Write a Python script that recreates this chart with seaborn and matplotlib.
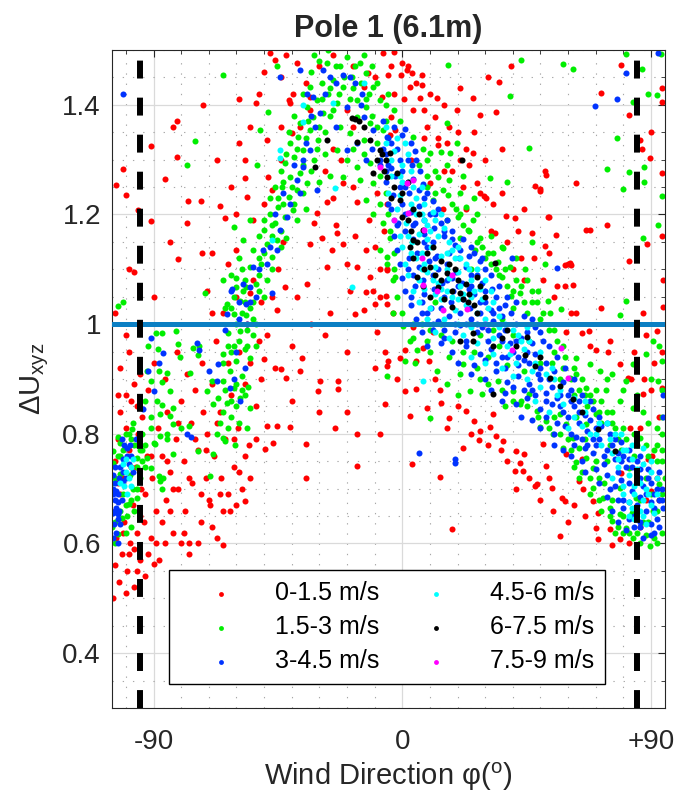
import matplotlib
matplotlib.use("Agg")
from matplotlib import pyplot
from matplotlib.ticker import FixedLocator, MultipleLocator, FormatStrFormatter
import seaborn

# wind speed bins and their colours (MATLAB style pure colours)
BIN_LABELS = ["0-1.5 m/s", "1.5-3 m/s", "3-4.5 m/s", "4.5-6 m/s", "6-7.5 m/s", "7.5-9 m/s"]
BIN_COLORS = ["#ff0000", "#00ee00", "#0033ff", "#00ffff", "#000000", "#ff00ff"]

# (wind direction [deg], dU_xyz), one list per speed bin
RED_PTS = [
    (-104.5, 0.50), (-104, 0.56), (-103.5, 0.61), (-103, 0.79), (-102.5, 0.53), (-102, 0.84), (-101.5, 0.58),
    (-101, 0.72), (-100.5, 0.64), (-100, 0.81), (-99.5, 0.55), (-99, 0.77), (-98.5, 0.60), (-98, 0.86),
    (-97.5, 0.67), (-97, 0.52), (-96.5, 0.74), (-96, 0.62), (-95.5, 0.80), (-95, 0.57), (-94.5, 0.70),
    (-94, 0.83), (-93.5, 0.64), (-93, 0.54), (-92.5, 0.76), (-104, 0.66), (-102, 0.69), (-100, 0.87),
    (-98, 0.74), (-96, 0.85),
    (-92, 0.88), (-91, 0.61), (-90.5, 0.72), (-90, 0.93), (-89, 0.66), (-88.5, 0.81), (-88, 0.57),
    (-87, 0.76), (-86, 0.90), (-85.5, 0.68), (-85, 0.84), (-84, 0.73), (-83, 0.62), (-82, 0.79),
    (-81.5, 0.95), (-81, 0.70), (-80, 0.86), (-79, 0.75), (-78.5, 0.66), (-78, 0.91), (-77, 0.58),
    (-76.5, 0.82), (-76, 0.71), (-75, 0.88), (-74, 0.77), (-73, 0.64), (-72.5, 0.93), (-72, 0.84),
    (-71, 0.72), (-70.5, 0.80),
    (-69.5, 0.67), (-69, 0.89), (-68, 0.76), (-67.5, 0.97), (-67, 0.61), (-66, 0.84), (-65.5, 0.72),
    (-65, 1.02), (-64, 0.79), (-63, 0.93), (-62.5, 0.66), (-62, 0.87), (-61, 0.74), (-60, 1.05),
    (-59.5, 0.81), (-59, 0.95), (-58, 0.70), (-57, 0.89), (-56, 1.00), (-55.5, 0.78), (-55, 0.93),
    (-54, 1.08), (-53, 0.85), (-52, 0.97), (-51, 1.04),
    (-72, 1.40), (-81.5, 1.37), (-83, 1.36), (-91, 1.325), (-81.5, 1.305), (-67, 1.30), (-101, 1.283),
    (-59, 1.33), (-59, 1.41), (-53, 1.404), (-86, 1.265), (-103.5, 1.254), (-100, 1.235), (-77.5, 1.224),
    (-73, 1.224), (-66, 1.216), (-64, 1.193), (-95.6, 1.208), (-91, 1.188), (-78, 1.184), (-84, 1.149),
    (-81, 1.118), (-99, 1.10), (-97, 1.095), (-104, 1.02), (-90, 1.05),
    (-48, 1.495), (-46, 1.482), (-39.5, 1.42), (-40.6, 1.404), (-38, 1.477), (-33.4, 1.415), (-57, 1.266),
    (-48.6, 1.268), (-47, 1.245), (-56, 1.232), (-54, 1.19), (-72.5, 1.13), (-69, 1.129), (-63, 1.11),
    (-60, 1.135), (-70.7, 1.06), (-69, 1.02), (-55, 1.056), (-32, 1.184), (-31, 1.202), (-33.4, 1.147),
    (-29, 1.158), (-23.7, 1.166), (-21.5, 1.147), (-25.5, 1.135), (-20, 1.11), (-16.5, 1.104),
    (-13, 1.135), (-11.7, 1.086), (-27.4, 1.104), (-19, 1.06), (-10.6, 1.06), (-5.6, 1.098),
    (-34.6, 1.074), (-38, 1.05), (-26, 1.02), (-14, 1.025), (-6, 1.052), (-16.5, 1.222), (-21.5, 1.257),
    (-27.4, 1.222), (-25, 1.23), (-49, 1.336), (-44, 1.36), (-40, 1.348), (-41, 1.409), (-33.4, 1.39),
    (-35, 1.44), (-20, 1.39), (-17.7, 1.36), (-14, 1.433), (-12.4, 1.458), (-7, 1.495), (-7.5, 1.415),
    (-4, 1.378), (-2.7, 1.354), (1.6, 1.464), (2.7, 1.433),
    (-3, 1.496), (0, 1.477), (2, 1.47), (3.4, 1.458), (-0.6, 1.455), (7, 1.455), (7, 1.437), (6.3, 1.413),
    (12.4, 1.413), (-5, 1.455), (0.6, 1.41), (19.7, 1.39), (25.5, 1.413), (31, 1.45), (35, 1.442),
    (39.5, 1.47), (34, 1.387), (28, 1.382), (11.7, 1.378), (12.8, 1.34), (36, 1.32), (25.5, 1.312),
    (20.8, 1.30), (51.5, 1.28), (52, 1.272), (48, 1.252), (49.7, 1.243), (63, 1.257), (72, 1.422),
    (79, 1.473), (82, 1.382), (86, 1.336), (86.6, 1.32), (89.5, 1.303), (90, 1.35), (93.8, 1.275),
    (94, 1.43), (94, 1.405), (28, 1.239), (29.6, 1.233), (37.7, 1.198), (40.6, 1.193), (53, 1.195),
    (66.6, 1.171), (68, 1.171), (74, 1.18), (60, 1.11), (60.6, 1.112), (82, 1.116), (88.7, 1.147),
    (94, 1.16), (94.5, 1.08), (46.8, 1.166), (43, 1.12), (47.6, 1.12), (51.5, 1.142), (51, 1.08),
    (44, 1.08), (55.7, 1.162), (59, 1.107), (61, 1.108), (61.8, 1.071), (30.4, 1.23), (27, 1.257),
    (23.2, 1.21), (33.4, 1.166), (32, 1.17), (52.6, 1.196), (50, 1.247),
    (-4.5, 1.345), (-5.6, 1.22), (-6.5, 1.17), (-5.6, 1.10), (-8, 1.05), (10, 1.257), (14.6, 1.21),
    (13, 1.327), (18, 1.28), (22, 1.25), (16, 1.33), (9, 1.36),
    (-3.3, 1.02), (3.8, 0.994), (7.4, 0.957), (-5, 0.933), (1, 0.952), (11, 0.985), (5, 0.933),
    (9.8, 0.933), (-5.6, 1.037), (-5.6, 0.924), (-1, 0.939), (1, 0.878), (5, 0.882), (-6.3, 0.855),
    (2.7, 0.833), (8.8, 0.848), (14, 0.857), (13.5, 0.88), (17, 0.829), (23, 0.842), (16, 0.81),
    (26, 0.824), (28, 0.805), (33, 0.836), (31.8, 0.812), (34, 0.796), (36.4, 0.787), (27.6, 0.789),
    (22, 0.774), (35.7, 0.77), (41, 0.769), (44, 0.763), (51, 0.782), (42.5, 0.747), (40.7, 0.732),
    (43.7, 0.732), (52, 0.741), (48.6, 0.708), (53, 0.72), (54, 0.701), (41.3, 0.699), (48, 0.704),
    (57.7, 0.683), (59, 0.677), (54.5, 0.659), (57, 0.613), (64, 0.714), (65.3, 0.70), (69, 0.677),
    (70.7, 0.655), (70, 0.628), (70.7, 0.608), (75.7, 0.598), (78.6, 0.608), (75, 0.626), (59.4, 0.763),
    (65, 0.755), (3.4, 0.745), (13.5, 0.722), (18, 0.627), (-35, 0.72), (-16.5, 0.80), (-16.3, 0.741),
    (-49, 0.814), (-45.5, 0.814), (-40.6, 0.812), (-46.7, 0.783), (-49.8, 0.773), (-35, 0.781),
    (-57, 0.677), (-42.5, 1.067), (-45.5, 1.025), (-44, 0.918), (-42, 0.902), (-37, 0.915),
    (-30.5, 0.878), (-29.6, 0.897), (-23.3, 0.897), (-23.3, 0.882), (-24.4, 0.811), (-17, 1.019),
    (-13, 1.058), (-10, 1.037), (-9.3, 0.985), (-6.3, 0.95), (-50, 0.937), (-36.3, 0.939), (-77, 0.601),
    (-64.7, 0.598), (-90, 0.562),
    (70, 0.952), (74.6, 0.95), (78.6, 0.928), (81.6, 0.902), (82.6, 0.9), (87, 0.873), (87.6, 0.9),
    (90, 0.88), (93.8, 0.884), (94.4, 1.032), (92, 0.988), (87, 1.021), (72, 1.03), (65, 0.983),
    (67.6, 0.987), (59.4, 0.985), (61, 1.02), (56, 1.07), (59, 1.07), (86, 0.81), (89, 0.754),
    (90.5, 0.76), (90, 0.695), (93, 0.68), (79, 0.728), (82.5, 0.81), (93, 0.83),
    (-104, 0.75), (-103, 0.71), (-101, 0.62), (-99, 0.58), (-97, 0.59), (-95, 0.65), (-93, 0.69),
    (-91, 0.76), (-89, 0.60), (-87, 0.64), (-85, 0.75), (-83, 0.70), (-81, 0.82), (-79, 0.62),
    (-77, 0.72), (-75, 0.79), (-73, 0.69), (-71, 0.77), (-69, 0.63), (-67, 0.82), (-65, 0.66),
    (-63, 0.69), (-61, 0.79), (-59, 0.73), (-57, 0.76), (-55, 0.72), (-53, 0.79), (-51, 0.90),
    (-49, 0.98), (-47, 1.05), (-45, 1.10), (-43, 1.15), (-50, 1.22), (-44, 1.30), (-37, 1.36),
    (-30, 1.47), (-25, 1.49), (-18, 1.47), (-10, 1.45), (-3, 1.42), (4, 1.39), (8, 1.34), (3, 1.30),
    (20, 1.35), (15, 1.28), (24, 1.29), (30, 1.30), (33, 1.22), (36, 1.24), (38, 1.15), (42, 1.17),
    (44, 1.21), (40, 1.10), (53, 1.13), (55, 1.05), (63, 1.02), (68, 0.96), (75, 0.97), (84, 0.95),
    (88, 0.98), (91, 0.93), (94, 0.95), (92, 0.72), (88, 0.68), (86, 0.63), (82, 0.60), (66, 0.65),
    (62, 0.67), (60, 0.64), (50, 0.68), (46, 0.72), (38, 0.75), (31, 0.78), (25, 0.80), (20, 0.85),
    (12, 0.90), (-2, 0.90), (-10, 0.92), (-20, 0.95), (-28, 0.98), (-33, 1.00), (-40, 0.96),
    (-46, 0.92), (-30, 0.84), (-40, 0.86), (-20, 0.84), (-8, 0.80),
    (-60, 1.20), (-62, 1.25), (-57, 1.30), (-55, 1.36), (-52, 1.42), (-50, 1.46), (-44, 1.45),
    (-42, 1.49), (-28, 1.28), (-25, 1.32), (-22, 1.30), (-18, 1.25), (-24, 1.18), (-17, 1.16),
    (-12, 1.19), (-9, 1.24), (-10, 1.14), (-8, 1.10), (-4, 1.47), (5, 1.44), (10, 1.42), (15, 1.40),
    (21, 1.43), (8, 1.39), (17, 1.36), (26, 1.35), (23, 1.32), (-102, 0.92), (-99, 0.95), (-100, 0.98),
    (-95, 0.91), (-97, 0.89), (-103, 0.87), (-100, 0.51), (-96, 0.55), (-92, 0.58), (-86, 0.60),
    (-84, 0.66), (-80, 0.60), (-74, 0.60), (-70, 0.68), (-66, 0.69), (-60, 0.67),
]

GREEN_PTS = [
    (-104.8, 0.747), (-104.6, 0.769), (-102, 0.783), (-100, 0.80), (-97.8, 0.809), (-97.5, 0.82),
    (-102, 0.727), (-98.6, 0.725), (-97.3, 0.70), (-96, 0.683), (-99, 0.672), (-101.4, 0.646),
    (-103, 0.617), (-92.4, 0.756), (-91, 0.738), (-88, 0.723), (-89.4, 0.781), (-91, 0.81), (-96, 0.756),
    (-94, 0.77), (-103, 0.794), (-94, 0.80), (-87.6, 0.796), (-85, 0.79), (-83, 0.818), (-80, 0.81),
    (-77, 0.815), (-74, 0.769), (-68.4, 0.763), (-65, 0.793), (-60.5, 0.78), (-69.6, 0.723),
    (-87.6, 0.714), (-101, 0.69), (-99.5, 0.65), (-97, 0.66), (-95, 0.72), (-93, 0.74), (-100, 0.62),
    (-98, 0.63), (-104, 0.60), (-96, 0.78), (-93, 0.78),
    (-105, 0.71), (-104, 0.72), (-103, 0.76), (-102, 0.76), (-101, 0.77), (-99, 0.80), (-98, 0.79),
    (-97, 0.78), (-96, 0.74), (-95, 0.77), (-94, 0.75), (-96, 0.70), (-98, 0.68), (-100, 0.67),
    (-102, 0.66), (-104, 0.64), (-105, 0.63),
    (-89, 0.983), (-87, 0.983), (-82, 0.988), (-81, 0.964), (-92, 0.96), (-88.4, 0.955), (-88, 0.915),
    (-85, 0.911), (-92.4, 0.915), (-91, 0.897), (-87, 0.895), (-84, 0.878), (-88.7, 0.86), (-93, 0.86),
    (-87.6, 0.836), (-84, 0.833), (-91, 0.83), (-83, 0.848), (-75.6, 0.957), (-73.5, 0.96), (-74, 0.943),
    (-80.3, 0.94), (-76.8, 0.911), (-87, 0.853), (-85, 0.80), (-83, 0.763), (-90, 0.783), (-86.4, 0.72),
    (-87, 0.70), (-103, 1.034), (-101, 1.04),
    (-60, 1.067), (-56.4, 1.068), (-63.4, 1.037), (-58.7, 1.043), (-54, 1.04), (-61, 1.019),
    (-56.5, 1.017), (-63, 0.983), (-58.7, 0.988), (-54, 0.98), (-61, 0.96), (-57, 0.955), (-64.7, 0.946),
    (-60, 0.933), (-55, 0.939), (-62.3, 0.915), (-58, 0.906), (-65, 0.897), (-61, 0.884), (-55.7, 0.886),
    (-66.6, 0.866), (-63.4, 0.857), (-58.7, 0.866), (-55, 0.848), (-56, 0.811), (-64, 0.787),
    (-68.5, 0.855), (-70.7, 0.878), (-69, 0.897),
    (-66, 0.82), (-63, 0.81), (-60, 0.85), (-58, 0.88), (-62, 0.95), (-59, 0.97), (-56, 0.99),
    (-58, 1.02), (-55, 1.03), (-52, 1.06), (-58, 1.10), (-52, 1.09), (-50, 1.13), (-47, 1.16),
    (-44, 1.17), (-48, 1.20), (-43, 1.22), (-40, 1.25), (-36, 1.29), (-38, 1.32), (-35, 1.34),
    (-30, 1.36), (-34, 1.37), (-29, 1.41), (-26, 1.43), (-24, 1.47), (-18, 1.43), (-15, 1.44),
    (-12, 1.42), (-11, 1.38), (-9, 1.36), (-6, 1.37), (-18, 1.32), (-14, 1.31), (-8, 1.27), (-6, 1.24),
    (-5, 1.20), (-3, 1.13),
    (-67, 0.80), (-65, 0.84), (-64, 0.88), (-62, 0.86), (-60, 0.89), (-57, 0.87), (-59, 0.82),
    (-62, 0.83), (-65, 0.93), (-63, 0.96), (-60, 1.00), (-62, 1.03), (-57, 1.04), (-54, 1.01),
    (-56, 0.96), (-53, 0.96),
    (-52, 1.16), (-50, 1.19), (-48, 1.23), (-46, 1.25), (-44, 1.28), (-42, 1.31), (-41, 1.35),
    (-39, 1.38), (-36, 1.42), (-33, 1.46), (-30, 1.48), (-27, 1.50), (-45, 1.23), (-47, 1.18),
    (-43, 1.26), (-39, 1.22), (-36, 1.24), (-33, 1.28), (-31, 1.32), (-28, 1.35), (-26, 1.38),
    (-23, 1.42), (-21, 1.45), (-17, 1.47), (-14, 1.49), (-11, 1.47), (-9, 1.44), (-5, 1.42), (-3, 1.39),
    (-1, 1.37), (-6, 1.40), (-13, 1.41), (-19, 1.41), (-25, 1.39), (-28, 1.31), (-26, 1.27), (-30, 1.26),
    (-35, 1.21), (-38, 1.19), (-44, 1.14), (-47, 1.10), (-52, 1.12), (-50, 1.05), (-53, 1.00),
    (-57, 1.08), (-59, 1.12), (-62, 1.09),
    (-61, 1.05), (-57.6, 1.06), (-53, 1.074), (-49, 1.08), (-60, 1.085), (-55, 1.104), (-51, 1.11),
    (-47, 1.122), (-54, 1.135), (-49, 1.147), (-45.4, 1.153), (-42, 1.158), (-50, 1.171), (-46, 1.184),
    (-42.5, 1.195), (-39.5, 1.208), (-45, 1.213), (-41, 1.232), (-38, 1.244), (-43.6, 1.25),
    (-40.6, 1.268), (-37, 1.275), (-34.6, 1.257), (-42.5, 1.294), (-39, 1.305), (-36, 1.318), (-32, 1.30),
    (-40.6, 1.33), (-37.8, 1.342), (-33.4, 1.354), (-30.5, 1.336), (-37, 1.367), (-32.3, 1.378),
    (-28.7, 1.385), (-34.6, 1.396), (-31, 1.409), (-27, 1.42), (-23.7, 1.404), (-33.4, 1.433),
    (-29, 1.44), (-25, 1.446), (-21.5, 1.433), (-18.3, 1.451), (-22.6, 1.47), (-27.4, 1.477),
    (-32, 1.491), (-20, 1.488), (-15.4, 1.477), (-13, 1.458), (-10.6, 1.433), (-16.5, 1.409),
    (-13, 1.396), (-8, 1.409), (-16.5, 1.378), (-11.7, 1.367), (-7, 1.354), (-14, 1.336), (-9.3, 1.33),
    (-19, 1.348), (-22.6, 1.36), (-23.7, 1.318), (-20, 1.30), (-16.5, 1.287), (-11.7, 1.294),
    (-21.5, 1.268), (-15.4, 1.263), (-10.6, 1.257), (-13, 1.226), (-8, 1.22), (-7, 1.184), (-10.6, 1.20),
    (-4.5, 1.158), (-8, 1.135), (-5.6, 1.11), (-3.3, 1.08), (-65, 1.455), (-45.4, 1.47), (-48.6, 1.387),
    (-51.5, 1.354), (-52.6, 1.29), (-55, 1.19), (-61, 1.177), (-57.6, 1.153), (-64.7, 1.08),
    (-71.4, 1.056), (-64, 1.03), (-75, 1.334), (-78, 1.29),
    (10, 1.312), (14, 1.314), (16, 1.29), (13, 1.268), (17, 1.263), (20.8, 1.239), (16.4, 1.235),
    (11, 1.226), (23.2, 1.213), (20, 1.195), (16, 1.19), (25.5, 1.19), (23.8, 1.171), (20.8, 1.158),
    (28, 1.158), (29, 1.14), (26.2, 1.135), (32.7, 1.129), (34.6, 1.113), (32, 1.11), (39, 1.104),
    (36, 1.086), (41.3, 1.08), (42.5, 1.056), (46.8, 1.06), (39.5, 1.052), (48.6, 1.04), (52.6, 1.043),
    (53.3, 1.021), (57.6, 1.028), (8.8, 1.25), (-5.6, 1.122), (-2.7, 1.086), (-4.5, 1.17), (2.7, 0.97),
    (5.2, 0.952), (22, 0.928), (1, 0.933), (44.5, 1.10), (19.4, 1.21), (14.6, 1.245), (3.8, 1.342),
    (7.5, 1.32), (19.7, 1.33), (17.3, 1.312),
    (-3.3, 1.021), (0.3, 0.997), (4, 0.975), (8.8, 0.97), (4.5, 0.93), (-5.6, 0.906), (12.5, 0.915),
    (16, 0.891), (20.8, 0.91), (24.4, 0.878), (20, 0.87), (10, 0.829), (29, 0.873), (34.7, 0.897),
    (40, 0.878), (42.5, 0.855), (46, 0.873), (48.6, 0.842), (52, 0.824), (50, 0.812), (54.5, 0.80),
    (57, 0.836), (59.4, 0.818), (61.8, 0.793), (58, 0.774), (64, 0.774), (66.6, 0.756), (63, 0.749),
    (69, 0.738), (64, 0.72), (69, 0.701), (71, 0.72), (72.6, 0.683), (75, 0.664), (76, 0.641),
    (78.6, 0.653), (81, 0.628), (83.4, 0.61), (88, 0.616), (87, 0.64), (92, 0.60), (90.7, 0.659),
    (93, 0.708), (92, 0.75), (93.8, 0.80), (92, 0.81), (94, 0.83), (92.4, 0.897), (93.8, 0.933),
    (90.6, 0.97), (93, 0.96), (88, 0.946), (83.4, 0.928), (81, 0.897), (76, 0.91), (71.4, 0.915),
    (68, 0.928), (63, 0.939), (60.5, 0.902), (66.6, 0.884), (73.6, 0.88), (78.6, 0.86), (83.4, 0.848),
    (76, 0.84), (70, 0.836), (66.6, 0.818), (87, 0.84), (86, 0.793), (82, 0.738), (78.6, 0.701),
    (84.7, 0.683), (81, 1.043), (78.6, 1.016), (89.6, 0.595), (80, 0.62),
    (26, 0.95), (31, 0.94), (35, 0.96), (38, 0.925), (44, 0.915), (50, 0.93), (55, 0.95), (57, 0.90),
    (62, 0.87), (67, 0.85), (72, 0.82), (75, 0.78), (79, 0.77), (84, 0.76), (88, 0.72), (90, 0.69),
    (86, 0.68), (83, 0.655), (24, 1.00), (28, 0.98), (33, 0.99), (40, 0.98), (45, 1.02), (12, 1.04),
    (14, 1.00),
    (30, 1.12), (35, 1.09), (38, 1.07), (44, 1.04), (50, 1.01), (55, 0.99), (58, 0.96), (62, 0.92),
    (65, 0.90), (68, 0.87), (72, 0.86), (76, 0.82), (80, 0.81), (84, 0.80), (88, 0.78), (91, 0.77),
    (94, 0.75), (89, 0.82), (85, 0.87), (80, 0.88), (74, 0.90), (90, 0.90), (94, 0.88), (94, 0.62),
    (91, 0.61), (86, 0.60), (77, 0.62), (72, 0.66), (68, 0.69), (62, 0.74), (60, 0.79), (55, 0.83),
    (45, 0.85), (37, 0.85), (28, 0.90), (17, 0.94), (10, 0.95), (7, 1.00), (25, 1.10), (22, 1.18),
    (27, 1.20), (12, 1.28), (9, 1.30), (22, 1.27), (26, 1.23), (32, 1.16), (36, 1.14), (41, 1.12),
    (45, 1.08), (49, 1.06), (40, 1.03), (36, 1.01), (46, 0.97), (54, 0.93), (58, 0.92), (64, 0.88),
    (70, 0.88), (63, 0.83), (66, 0.79), (70, 0.75), (73, 0.71), (76, 0.68), (80, 0.65), (74, 0.75),
    (78, 0.79),
    (6, 1.29), (9, 1.27), (12, 1.24), (18, 1.22), (21, 1.20), (24, 1.17), (27, 1.15), (31, 1.13),
    (34, 1.10), (37, 1.10), (40, 1.06), (43, 1.07), (47, 1.04), (51, 1.02), (53, 0.99), (56, 0.97),
    (59, 0.94), (61, 0.90), (63, 0.91), (66, 0.87), (69, 0.86), (71, 0.84), (74, 0.84), (77, 0.81),
    (81, 0.79), (85, 0.78), (89, 0.76), (92, 0.78), (94, 0.77), (95, 0.72), (94, 0.69), (92, 0.66),
    (89, 0.64), (85, 0.62), (82, 0.62), (78, 0.63), (75, 0.65), (71, 0.68), (68, 0.72), (65, 0.73),
    (61, 0.77), (57, 0.80), (53, 0.81), (49, 0.83), (43, 0.86), (40, 0.86), (36, 0.88), (31, 0.89),
    (27, 0.92), (22, 0.95), (18, 0.97), (14, 0.98), (10, 0.99), (4, 1.00), (0, 1.02), (-2, 1.05),
    (-3, 1.10),
    (16.6, 1.473), (43, 1.482), (58, 1.475), (61.8, 1.466), (81, 1.493), (86.6, 1.466), (88.8, 1.42),
    (92, 1.418), (93.6, 1.493), (83.4, 1.406), (38.8, 1.416), (16, 1.367), (77.5, 1.34), (46, 1.322),
    (74, 1.283), (82, 1.277), (87.6, 1.287), (87.6, 1.26), (79.7, 1.246), (94, 1.234), (38, 1.26),
    (31.6, 1.266), (92.4, 1.18), (87, 1.158), (46.8, 1.149), (36.4, 1.138), (51.5, 1.11),
]

BLUE_PTS = [
    (-104.5, 0.70), (-104, 0.68), (-103.5, 0.665), (-104.7, 0.655), (-103, 0.645), (-104.2, 0.635),
    (-103.6, 0.62), (-102.8, 0.69), (-102.5, 0.66), (-104.8, 0.69), (-103.8, 0.71), (-101.5, 0.79),
    (-100.5, 0.78), (-99.5, 0.775), (-101, 0.755), (-99, 0.745), (-97.5, 0.73), (-100, 0.72), (-98, 0.76),
    (-96.5, 0.79), (-103, 0.653), (-101, 0.714), (-104, 0.74), (-103, 0.60), (-104.5, 0.61),
    (-102, 0.635), (-103, 0.675), (-101.5, 0.68), (-102, 0.74), (-104, 0.66), (-103.5, 0.695),
    (-104.5, 0.725), (-102.5, 0.72), (-101, 0.73), (-99.5, 0.76), (-98.5, 0.78),
    (-78, 0.80), (-76.5, 0.795), (-91, 0.974), (-86.4, 0.948), (-88, 0.93), (-92, 0.915), (-90, 0.878),
    (-93.8, 0.845), (-74.4, 0.966), (-73.6, 0.952), (-70, 0.915), (-67, 0.897), (-62.3, 0.884),
    (-58.7, 0.86), (-63.4, 1.019), (-56, 1.0), (-59, 1.04), (-64, 0.99), (-66.6, 0.928), (-55, 1.067),
    (-53, 1.05), (-62, 1.06), (-101, 1.42),
    (-61.5, 1.065), (-56.4, 1.037), (-54, 1.104), (-50.4, 1.135), (-49, 1.11), (-45.4, 1.135),
    (-44.2, 1.171), (-41.8, 1.195), (-40.6, 1.22), (-37, 1.239), (-38, 1.263), (-35.8, 1.287),
    (-36, 1.30), (-33.4, 1.318), (-31.6, 1.36), (-29.8, 1.385), (-32.3, 1.415), (-28.7, 1.464),
    (-26.2, 1.451), (-21.5, 1.455), (-17, 1.44), (-14.7, 1.42), (-20, 1.396), (-14, 1.378),
    (-10.6, 1.354), (-5.6, 1.342), (-16.5, 1.33), (-24, 1.36), (-20, 1.318), (-13, 1.30), (-31, 1.244),
    (-47, 1.056), (-57.6, 1.074), (-44.2, 1.451), (-37, 1.464), (-34.6, 1.42),
    (-60, 0.95), (-57, 0.92), (-61, 0.90), (-59, 1.01), (-55, 1.04), (-52, 1.10), (-48, 1.14),
    (-46, 1.20), (-43, 1.24), (-39, 1.29), (-35, 1.33), (-33, 1.38), (-28, 1.42), (-24, 1.44),
    (-19, 1.45), (-15, 1.40), (-11, 1.32), (-8, 1.30), (-7, 1.32),
    (81, 1.458), (77.5, 1.41), (69.6, 1.398), (92.5, 1.495), (39.6, 1.12), (55.8, 1.102), (6, 0.765),
    (19, 0.754), (19, 0.747), (94.4, 0.87), (94.4, 0.83),
    (-7, 1.37), (-3, 1.36), (1, 1.355), (-5, 1.34), (-4, 1.33), (0, 1.345), (3, 1.33),
    (-6, 1.31), (-2, 1.32), (2, 1.30), (4.5, 1.315), (-8, 1.29),
    (-4, 1.285), (0, 1.28), (3.5, 1.29), (6.5, 1.28),
    (-6, 1.26), (-2.5, 1.27), (1, 1.25), (4, 1.265), (7.5, 1.255), (9, 1.24),
    (-3.5, 1.235), (2.5, 1.24), (6, 1.245), (11, 1.225),
    (-4, 1.21), (0, 1.22), (3, 1.205), (6, 1.215), (10, 1.20), (13, 1.21), (16, 1.19),
    (-1.5, 1.185), (4.5, 1.185), (8, 1.19), (11.5, 1.175), (14, 1.185), (18, 1.17),
    (-3, 1.16), (1, 1.17), (4, 1.155), (8, 1.165), (11, 1.15), (15, 1.16), (19, 1.145), (22, 1.155),
    (25, 1.14),
    (-2, 1.135), (5.5, 1.13), (9, 1.14), (12.5, 1.125), (17, 1.13), (20.5, 1.12), (24, 1.125),
    (28, 1.115),
    (-1, 1.11), (2.5, 1.12), (6, 1.105), (9.5, 1.115), (13, 1.10), (16, 1.11), (19.5, 1.095),
    (23, 1.105), (27, 1.09), (30, 1.10),
    (0, 1.085), (4, 1.09), (7.5, 1.08), (11, 1.09), (14.5, 1.075), (18, 1.085), (21.5, 1.075),
    (25, 1.07), (29, 1.075), (32.5, 1.065),
    (1, 1.06), (4.5, 1.07), (8, 1.055), (11.5, 1.065), (15, 1.05), (18.5, 1.06), (22, 1.045),
    (26, 1.055), (30, 1.04), (34, 1.05), (37, 1.035),
    (3, 1.035), (7, 1.04), (10.5, 1.03), (14, 1.03), (17.5, 1.04), (21, 1.02), (24.5, 1.03), (28, 1.02),
    (32, 1.025), (36, 1.015), (39.5, 1.02),
    (5, 1.01), (9, 1.02), (13, 1.005), (17, 1.015), (21, 0.998), (25, 1.01), (29, 0.995), (33, 1.005),
    (37, 0.99), (41, 1.0), (45, 0.985), (48, 0.995),
    (7, 0.985), (11, 0.99), (15, 0.975), (19, 0.985), (23, 0.97), (27, 0.985), (31, 0.97), (35, 0.98),
    (39, 0.965), (43, 0.975), (47, 0.965), (51, 0.97),
    (9, 0.96), (14, 0.965), (18, 0.95), (23, 0.96), (28, 0.945), (32, 0.955), (36, 0.94), (40, 0.95),
    (44, 0.935), (48, 0.945), (52, 0.93),
    (20, 0.93), (26, 0.925), (30, 0.935), (34, 0.93), (38, 0.94), (42, 0.925), (46, 0.93), (50, 0.92),
    (55, 0.915),
    (25, 0.91), (30, 0.90), (34, 0.915), (38, 0.895), (42, 0.905), (46, 0.89), (50, 0.90), (54, 0.885),
    (58, 0.895), (61, 0.88),
    (32, 0.88), (37, 0.875), (40, 0.885), (44, 0.88), (48, 0.87), (52, 0.875), (56, 0.865), (60, 0.87),
    (64, 0.86),
    (36, 0.86), (41, 0.855), (45, 0.865), (50, 0.845), (54, 0.855), (58, 0.84), (62, 0.85), (66, 0.835),
    (69, 0.845),
    (43, 0.83), (47, 0.825), (52, 0.83), (56, 0.82), (60, 0.83), (64, 0.82), (68, 0.825), (72, 0.815),
    (50, 0.81), (55, 0.80), (59, 0.815), (63, 0.795), (67, 0.805), (71, 0.79), (75, 0.80), (79, 0.785),
    (55, 0.78), (58, 0.77), (62, 0.78), (66, 0.775), (70, 0.78), (74, 0.77), (78, 0.765), (82, 0.77),
    (86, 0.76),
    (61, 0.76), (65, 0.75), (69, 0.765), (73, 0.745), (77, 0.755), (81, 0.74), (85, 0.75), (89, 0.735),
    (66, 0.73), (70, 0.735), (74, 0.725), (78, 0.73), (82, 0.71), (86, 0.72), (90, 0.71), (93, 0.73),
    (71, 0.71), (75, 0.70), (79, 0.715), (83, 0.695), (87, 0.705), (91, 0.69), (94, 0.70),
    (74, 0.685), (78, 0.68), (82, 0.675), (86, 0.685), (90, 0.675), (93, 0.68),
    (76, 0.66), (80, 0.665), (84, 0.65), (88, 0.66), (92, 0.645), (94.5, 0.665),
    (78, 0.64), (82, 0.645), (86, 0.64), (90, 0.635), (93, 0.63),
    (81, 0.625), (86, 0.63), (90, 0.615),
    (-5, 1.29), (-1, 1.30), (5, 1.30), (-5, 1.22), (-1, 1.25), (8, 1.23), (12, 1.20), (15, 1.17),
    (18, 1.155), (21, 1.135), (26, 1.13), (29, 1.12), (32, 1.09), (35, 1.07), (38, 1.05), (41, 1.04),
    (44, 1.015), (47, 1.01), (50, 0.985), (53, 0.96), (56, 0.94), (59, 0.92), (62, 0.90), (65, 0.87),
    (68, 0.86), (71, 0.83), (74, 0.82), (77, 0.79), (80, 0.76), (83, 0.74), (86, 0.735), (89, 0.72),
    (92, 0.70), (94, 0.68), (91, 0.62), (87, 0.61), (84, 0.63), (80, 0.68), (77, 0.705), (73, 0.76),
    (69, 0.79), (65, 0.79), (61, 0.80), (57, 0.85), (53, 0.90), (49, 0.91), (45, 0.95), (41, 0.97),
    (36, 0.97), (31, 0.99), (27, 1.00), (23, 1.00), (19, 1.00), (15, 0.99), (11, 1.00), (7, 1.02),
    (3, 1.05), (2, 1.10), (-2, 1.18), (-6, 1.28), (35, 1.03), (30, 1.06), (25, 1.09), (20, 1.07),
    (16, 1.08), (12, 1.12), (8, 1.15), (4, 1.18), (1, 1.20), (28, 1.04), (24, 1.065), (33, 1.02),
    (42, 0.94), (37, 0.92), (47, 0.88), (52, 0.86), (57, 0.87), (61, 0.86), (64, 0.84), (70, 0.81),
    (67, 0.78), (76, 0.78), (82, 0.755), (79, 0.75), (88, 0.69), (85, 0.67), (91, 0.665),
]

CYAN_PTS = [
    (-101, 0.745), (-100, 0.73), (-99, 0.72), (-98, 0.74), (-100.5, 0.705), (-97.5, 0.755),
    (-99.5, 0.69), (-102, 0.71), (-100, 0.755), (-98, 0.705),
    (-44.2, 1.318), (-35.8, 1.369), (-14, 1.44), (-25, 1.404), (-24.4, 1.248), (-18.3, 1.067),
    (-44.2, 1.303), (-47, 1.153), (-36, 1.40),
    (-6, 1.36), (-2, 1.34), (1, 1.33), (-4, 1.30), (0, 1.29), (3, 1.28), (-5, 1.24), (-1, 1.235),
    (2, 1.26), (5, 1.23), (8, 1.22), (-3, 1.19), (1.5, 1.185), (5, 1.20), (9, 1.18), (12, 1.19),
    (15, 1.175), (0, 1.14), (3.5, 1.15), (7, 1.13), (10.5, 1.14), (14, 1.125), (18, 1.135), (21, 1.12),
    (2, 1.09), (6, 1.08), (9, 1.095), (13, 1.075), (17, 1.085), (21, 1.07), (25, 1.08), (28, 1.065),
    (6, 1.04), (10, 1.03), (14, 1.045), (19, 1.025), (23, 1.035), (27, 1.02), (31, 1.03), (35, 1.015),
    (12, 0.985), (17, 0.975), (22, 0.98), (27, 0.965), (33, 0.975), (38, 0.96), (43, 0.97),
    (30, 0.93), (36, 0.92), (41, 0.93), (47, 0.915), (52, 0.91), (7.4, 0.897),
    (-6, 1.33), (-3, 1.315), (2, 1.31), (-1, 1.27), (4, 1.25), (7, 1.25), (-2, 1.21), (3, 1.22),
    (7, 1.20), (11, 1.205), (14, 1.20), (2, 1.16), (6, 1.165), (9, 1.155), (13, 1.16), (17, 1.15),
    (20, 1.14), (1, 1.11), (5, 1.12), (8, 1.11), (12, 1.105), (16, 1.10), (20, 1.095), (24, 1.10),
    (4, 1.06), (8, 1.065), (12, 1.055), (16, 1.06), (20, 1.045), (25, 1.05), (29, 1.045), (33, 1.04),
    (9, 1.01), (15, 1.01), (20, 1.00), (25, 0.995), (30, 1.01), (35, 0.995), (40, 0.99), (45, 0.995),
    (25, 0.94), (33, 0.945), (39, 0.945), (44, 0.955), (50, 0.95), (40, 0.905), (45, 0.90),
    (50, 0.885), (55, 0.90), (48, 0.86), (53, 0.84), (58, 0.855),
    (-4, 1.27), (0, 1.26), (4, 1.21), (8, 1.19), (10, 1.17), (16, 1.13), (19, 1.12), (23, 1.11),
    (27, 1.10), (30, 1.08), (26, 1.06), (22, 1.055), (18, 1.05), (14, 1.065), (11, 1.08), (7, 1.10),
    (3, 1.13), (-1, 1.16), (32, 1.06), (37, 1.00), (42, 0.98), (46, 0.97), (48, 0.93), (54, 0.92),
    (57, 0.88), (62, 0.865), (66, 0.84), (71, 0.82), (77, 0.80), (81, 0.77), (86, 0.71), (89, 0.69),
    (84, 0.705), (92, 0.69), (87, 0.65), (82, 0.65),
    (60, 0.81), (65, 0.815), (70, 0.80), (75, 0.79), (79, 0.80), (83, 0.78), (87, 0.775), (78, 0.755),
    (83, 0.755), (87, 0.745), (90, 0.75), (76, 0.72), (85, 0.715), (90, 0.73), (80, 0.69), (87, 0.68),
    (91, 0.655), (83, 0.665),
    (72, 0.78), (76, 0.765), (80, 0.77), (78, 0.74), (82, 0.725), (85, 0.735), (80, 0.705), (84, 0.69),
    (88, 0.70), (82, 0.675), (86, 0.66), (90, 0.67), (84, 0.645), (88, 0.635), (68, 0.80), (74, 0.82),
    (62, 0.83), (66, 0.86), (56, 0.87), (92, 0.72),
]

BLACK_PTS = [
    (3.8, 1.153), (5.5, 1.15), (2.8, 1.14), (7.4, 1.171), (2, 1.19), (0, 1.195), (-1, 1.226),
    (-5.6, 1.268), (-6.5, 1.28), (-2, 1.275), (0, 1.24), (-4.5, 1.312), (-8, 1.318), (10, 1.104),
    (14, 1.116), (16, 1.093), (20.8, 1.056), (23, 1.074), (27, 1.086), (28, 1.07), (23.8, 1.04),
    (18, 1.031), (13, 1.067), (7.4, 1.07), (5.2, 1.086), (20.8, 0.97), (25.6, 0.97), (36, 0.974),
    (45, 0.976), (21.5, 1.30), (33.4, 1.111),
    (4, 1.12), (9, 1.13), (12, 1.09), (18, 1.06), (24, 1.055), (15, 1.045), (10, 1.05), (3, 1.17),
    (6, 1.20), (-3, 1.25), (19, 1.10), (26, 1.035), (30, 1.05), (38, 0.99), (41, 0.96), (50, 0.94),
    (65, 0.84), (2, 1.26), (8, 1.10), (14, 1.08), (20, 1.08), (17, 1.11), (11, 1.14), (22, 1.045),
    (27, 1.02), (4, 1.21), (-4, 1.23), (-6, 1.30),
    (25.6, 0.983), (33, 0.96), (44.3, 0.943), (48, 0.924), (53.3, 0.902), (57, 0.888), (61.8, 0.864),
    (33, 0.873), (70.8, 0.809), (76.8, 0.769),
    (-18.3, 1.376), (-14, 1.36), (-27.4, 1.336), (-31.6, 1.287), (-9.3, 1.30), (-7.5, 1.31),
    (-11.7, 1.336), (-17, 1.374), (-15.8, 1.37), (-16.5, 1.332), (-10.6, 1.275),
]

MAGENTA_PTS = [
    (3.8, 1.263), (8, 1.171), (7, 1.12), (7.6, 1.071), (14.8, 1.025), (23.3, 1.028), (39.6, 0.952),
    (57.6, 0.957), (60, 0.902), (-8, 1.287), (1.6, 1.257), (2, 1.202), (12.6, 1.06), (18, 1.09),
    (30, 1.0), (-3, 1.19),
]

SERIES = [RED_PTS, GREEN_PTS, BLUE_PTS, CYAN_PTS, BLACK_PTS, MAGENTA_PTS]

X_LIMITS = (-105, 95)
Y_LIMITS = (0.3, 1.5)
X_TICKS = [-90, 0, 90]
X_TICK_LABELS = ["-90", "0", "+90"]
Y_TICKS = [0.4, 0.6, 0.8, 1.0, 1.2, 1.4]
SECTOR_EDGES = [-95, 85]
REFERENCE_LEVEL = 1.0

seaborn.set_style("white")
pyplot.rcParams["font.family"] = ["Liberation Sans", "DejaVu Sans"]
pyplot.rcParams["mathtext.fontset"] = "custom"
pyplot.rcParams["mathtext.rm"] = "Liberation Sans"
pyplot.rcParams["mathtext.it"] = "Liberation Sans:italic"

DARK = "#262626"

figure = pyplot.figure(figsize=(6.75, 8.05), dpi=100)
axes = figure.add_axes([0.166, 0.1205, 0.819, 0.8174])

for points, color, label in zip(SERIES, BIN_COLORS, BIN_LABELS):
    xs = [p[0] for p in points]
    ys = [p[1] for p in points]
    seaborn.scatterplot(x=xs, y=ys, color=color, s=19, linewidth=0, label=label,
                        legend=False, ax=axes, zorder=2)

axes.axhline(REFERENCE_LEVEL, color="#0b7fc3", lw=3.6, zorder=3)
for edge in SECTOR_EDGES:
    axes.axvline(edge, color="black", lw=4.3, ls=(0, (3, 3.2)), zorder=4)

axes.set_xlim(X_LIMITS)
axes.set_ylim(Y_LIMITS)
axes.xaxis.set_major_locator(FixedLocator(X_TICKS))
axes.set_xticklabels(X_TICK_LABELS)
axes.xaxis.set_minor_locator(MultipleLocator(10))
axes.yaxis.set_major_locator(FixedLocator(Y_TICKS))
axes.yaxis.set_major_formatter(FormatStrFormatter("%g"))
axes.yaxis.set_minor_locator(MultipleLocator(0.05))

axes.set_axisbelow(True)
axes.grid(which="major", color="#dadada", lw=0.9, ls="-")
axes.grid(which="minor", color="#a8a8a8", lw=0.8, ls=(0, (1.2, 8)))

for spine in axes.spines.values():
    spine.set_color(DARK)
    spine.set_linewidth(0.8)
    spine.set_visible(True)
axes.tick_params(which="both", direction="in", top=True, right=True, color=DARK)
axes.tick_params(which="major", length=5, width=0.8, labelsize=20, labelcolor=DARK)
axes.tick_params(which="minor", length=3, width=0.6)
axes.tick_params(axis="x", which="major", pad=15)
axes.tick_params(axis="y", which="major", pad=8)

axes.set_title("Pole 1 (6.1m)", fontsize=22, fontweight="bold", pad=9)
axes.set_xlabel(r"Wind Direction φ($^{\mathrm{o}}$)", fontsize=21, color=DARK, labelpad=4)
axes.set_ylabel(r"ΔU$_{\mathrm{xyz}}$", fontsize=21, color=DARK, labelpad=8)

legend = axes.legend(ncol=2, loc="upper left", bbox_to_anchor=(0.103, 0.21), borderaxespad=0,
                     fontsize=18, frameon=True, fancybox=False, framealpha=1, edgecolor="black",
                     borderpad=0.45, handlelength=3.3, handletextpad=0.5, columnspacing=0.6,
                     labelspacing=0.4, markerscale=0.8)
legend.get_frame().set_linewidth(1.0)
for text in legend.get_texts():
    text.set_color("black")
legend.set_zorder(5)

figure.savefig("out.png", dpi=100)
